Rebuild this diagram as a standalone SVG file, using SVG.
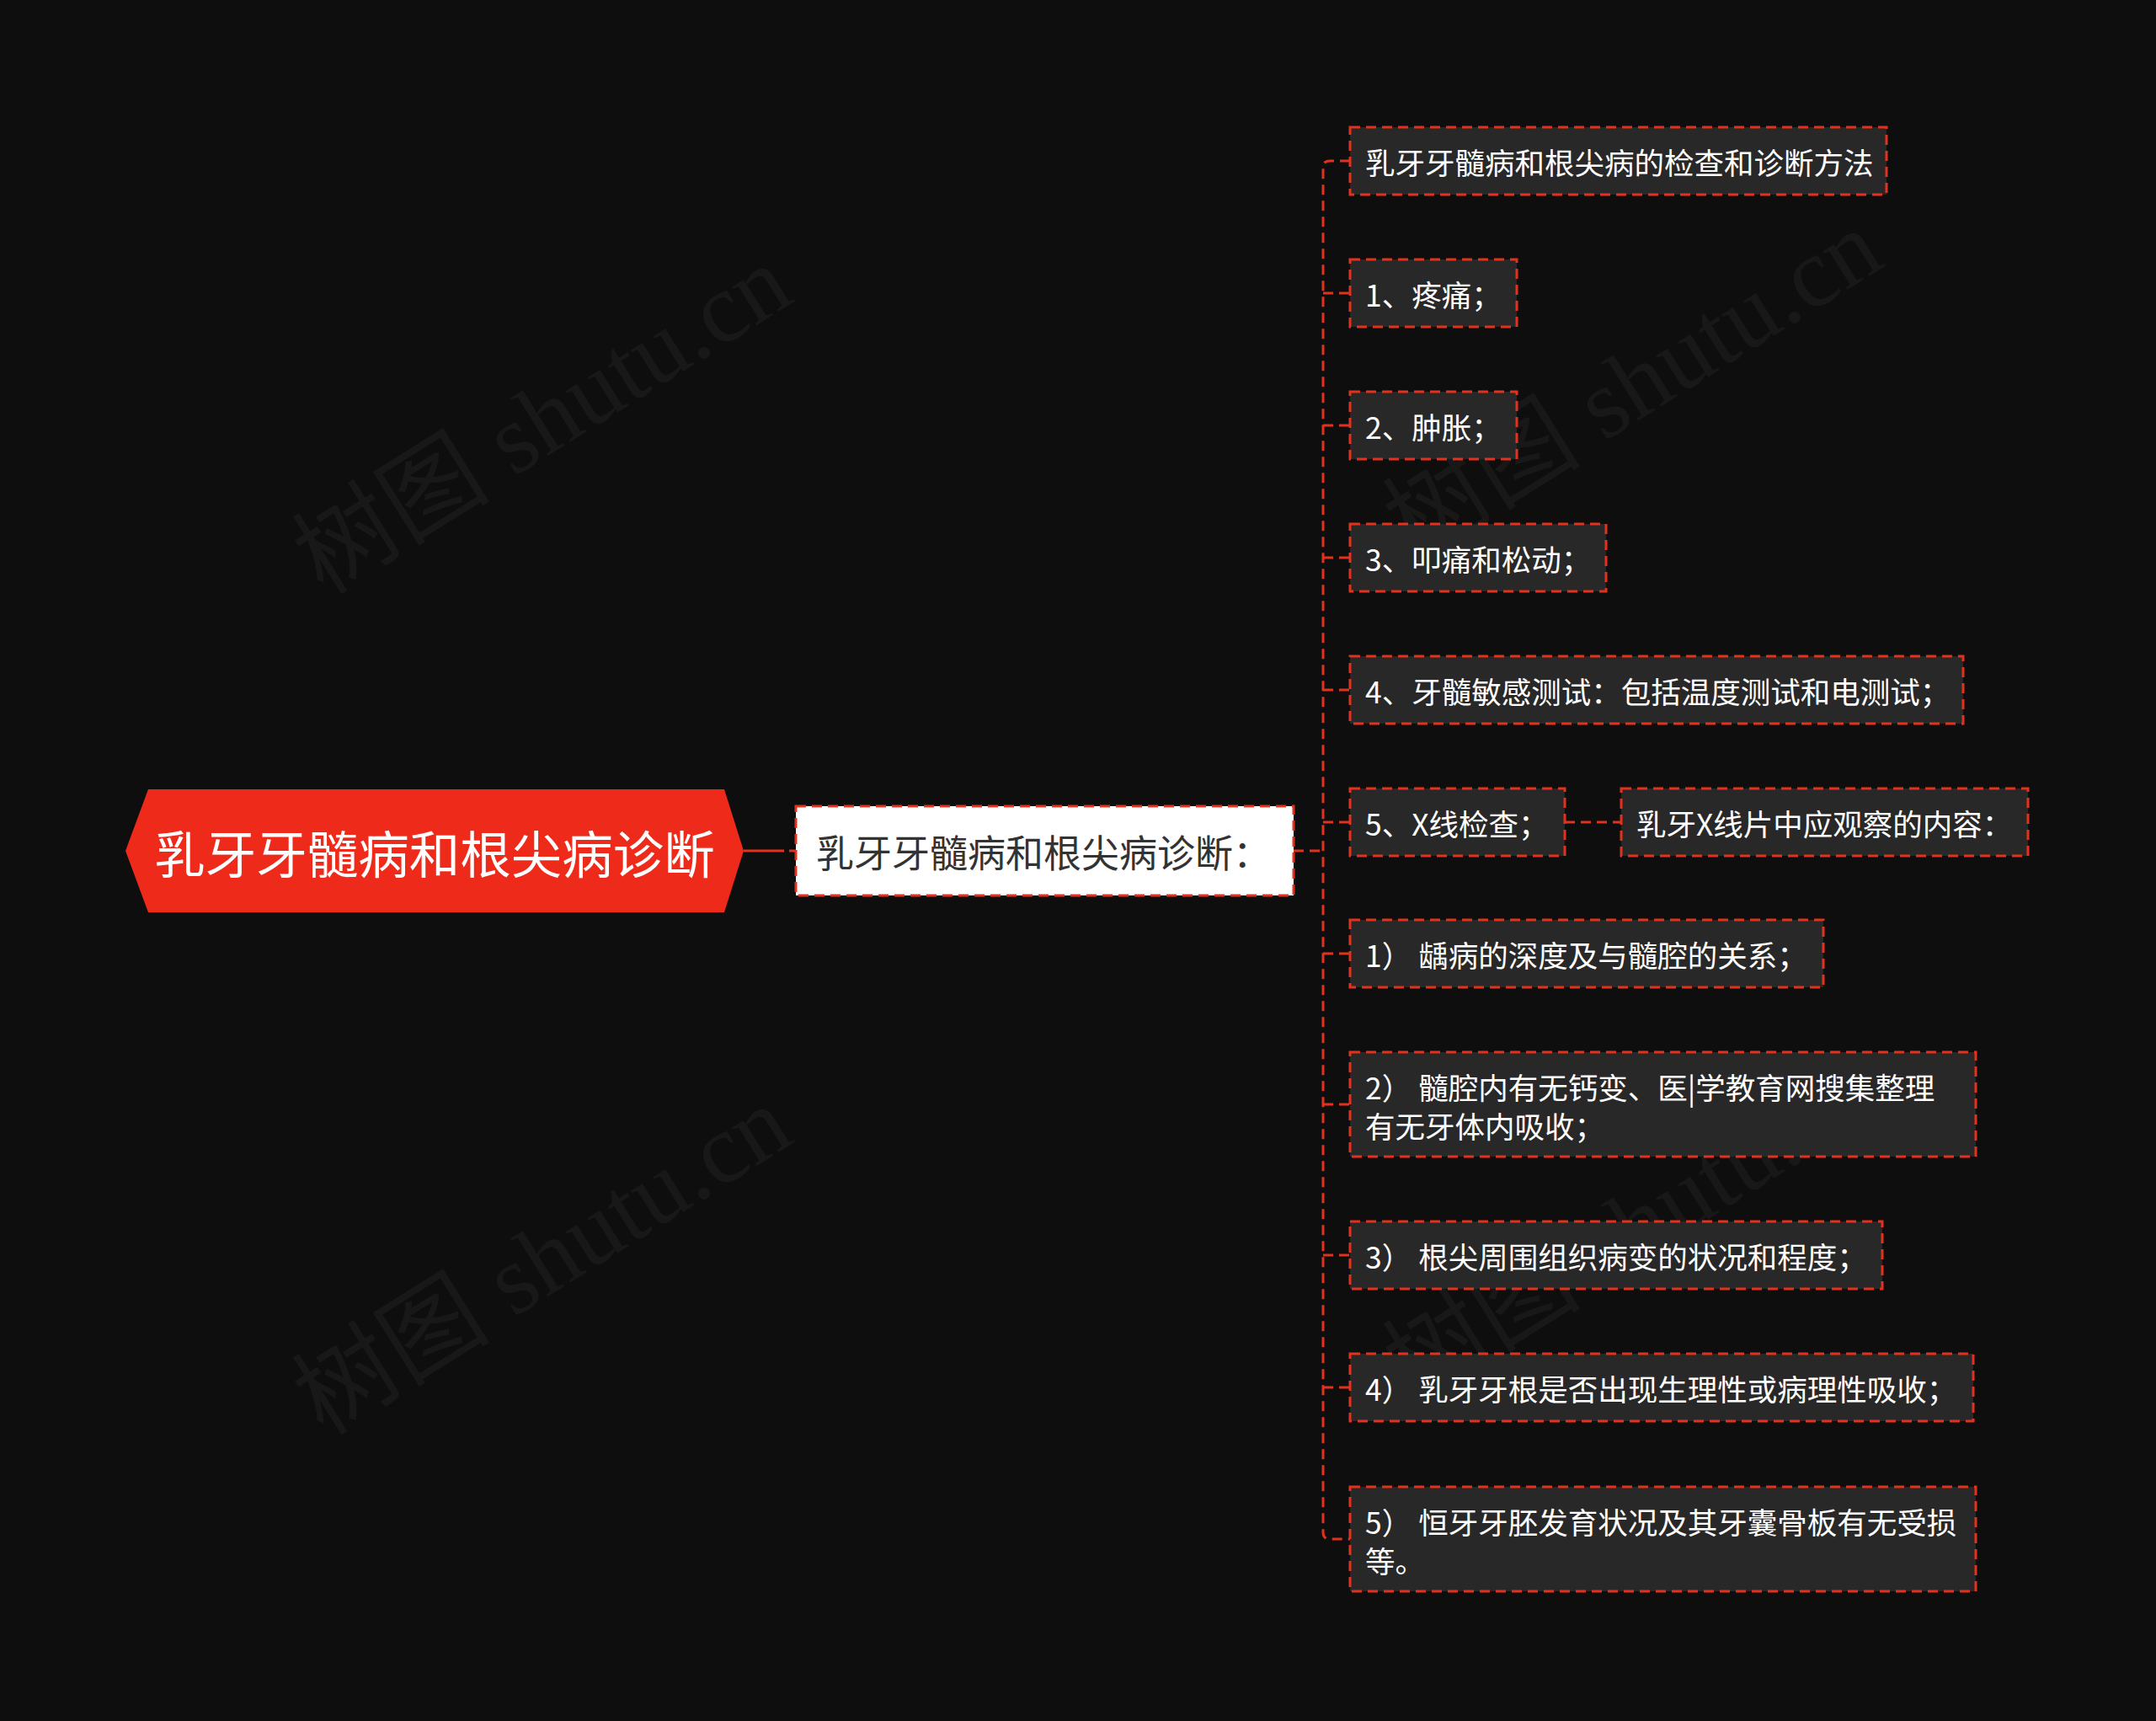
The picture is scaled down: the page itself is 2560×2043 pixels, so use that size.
<svg xmlns="http://www.w3.org/2000/svg" width="2560" height="2043" viewBox="0 0 2560 2043">
<style>
.wm{font-family:"Liberation Serif","Noto Sans CJK SC",serif;font-size:118px;fill:#ffffff;fill-opacity:0.045}
.conn{fill:none;stroke:#e2321f;stroke-width:3;stroke-dasharray:12 7}
.box{fill:#282828;stroke:#e2321f;stroke-width:3;stroke-dasharray:12 7}
.t{font-family:"Noto Sans CJK SC","Noto Sans",sans-serif;font-size:35.5px;fill:#ffffff;dominant-baseline:central}
</style>
<rect width="2560" height="2043" fill="#0e0e0e"/>
<g id="watermarks">
<text class="wm" x="665" y="532" text-anchor="middle" transform="rotate(-32 665 532)">树图 shutu.cn</text>
<text class="wm" x="1960" y="490" text-anchor="middle" transform="rotate(-32 1960 490)">树图 shutu.cn</text>
<text class="wm" x="665" y="1530" text-anchor="middle" transform="rotate(-32 665 1530)">树图 shutu.cn</text>
<text class="wm" x="1960" y="1490" text-anchor="middle" transform="rotate(-32 1960 1490)">树图 shutu.cn</text>
</g>
<g id="connectors">
<path class="conn" d="M883 1010 H945" style="stroke-dasharray:48 6 12 7"/>
<path class="conn" d="M1536 1010 H1571"/>
<path class="conn" d="M1603 191 H1579 Q1571 191 1571 199 V1819 Q1571 1827 1579 1827 H1603"/>
<path class="conn" d="M1571 348 H1603"/>
<path class="conn" d="M1571 505 H1603"/>
<path class="conn" d="M1571 662 H1603"/>
<path class="conn" d="M1571 819 H1603"/>
<path class="conn" d="M1571 976 H1603"/>
<path class="conn" d="M1571 1132 H1603"/>
<path class="conn" d="M1571 1311 H1603"/>
<path class="conn" d="M1571 1490 H1603"/>
<path class="conn" d="M1571 1647 H1603"/>
<path class="conn" d="M1858 976 H1925"/>
</g>
<g id="root">
<polygon points="149,1010 176,937 860,937 883,1010 860,1083 176,1083" fill="#ee2a1a"/>
<text x="516" y="1010" font-family="Noto Sans CJK SC,sans-serif" font-size="60.5" fill="#ffffff" text-anchor="middle" dominant-baseline="central">乳牙牙髓病和根尖病诊断</text>
</g>
<g id="n-main">
<rect x="945" y="957" width="591" height="106" fill="#ffffff" stroke="#e2321f" stroke-width="3" stroke-dasharray="12 7"/>
<text x="969" y="1010" font-family="Noto Sans CJK SC,sans-serif" font-size="45" fill="#333333" dominant-baseline="central">乳牙牙髓病和根尖病诊断：</text>
</g>
<g id="n1"><rect class="box" x="1603" y="151" width="637" height="80"/><text class="t" x="1621" y="191">乳牙牙髓病和根尖病的检查和诊断方法</text></g>
<g id="n2"><rect class="box" x="1603" y="308" width="198" height="80"/><text class="t" x="1621" y="348">1、疼痛；</text></g>
<g id="n3"><rect class="box" x="1603" y="465" width="198" height="80"/><text class="t" x="1621" y="505">2、肿胀；</text></g>
<g id="n4"><rect class="box" x="1603" y="622" width="304" height="80"/><text class="t" x="1621" y="662">3、叩痛和松动；</text></g>
<g id="n5"><rect class="box" x="1603" y="779" width="728" height="80"/><text class="t" x="1621" y="819">4、牙髓敏感测试：包括温度测试和电测试；</text></g>
<g id="n6"><rect class="box" x="1603" y="936" width="255" height="80"/><text class="t" x="1621" y="976">5、X线检查；</text></g>
<g id="n6a"><rect class="box" x="1925" y="936" width="483" height="80"/><text class="t" x="1943" y="976">乳牙X线片中应观察的内容：</text></g>
<g id="n7"><rect class="box" x="1603" y="1092" width="562" height="80"/><text class="t" x="1621" y="1132">1） 龋病的深度及与髓腔的关系；</text></g>
<g id="n8"><rect class="box" x="1603" y="1249" width="743" height="124"/><text class="t" x="1621" y="1289">2） 髓腔内有无钙变、医|学教育网搜集整理</text><text class="t" x="1621" y="1335">有无牙体内吸收；</text></g>
<g id="n9"><rect class="box" x="1603" y="1450" width="632" height="80"/><text class="t" x="1621" y="1490">3） 根尖周围组织病变的状况和程度；</text></g>
<g id="n10"><rect class="box" x="1603" y="1607" width="740" height="80"/><text class="t" x="1621" y="1647">4） 乳牙牙根是否出现生理性或病理性吸收；</text></g>
<g id="n11"><rect class="box" x="1603" y="1765" width="743" height="124"/><text class="t" x="1621" y="1805">5） 恒牙牙胚发育状况及其牙囊骨板有无受损</text><text class="t" x="1621" y="1851">等。</text></g>
</svg>
